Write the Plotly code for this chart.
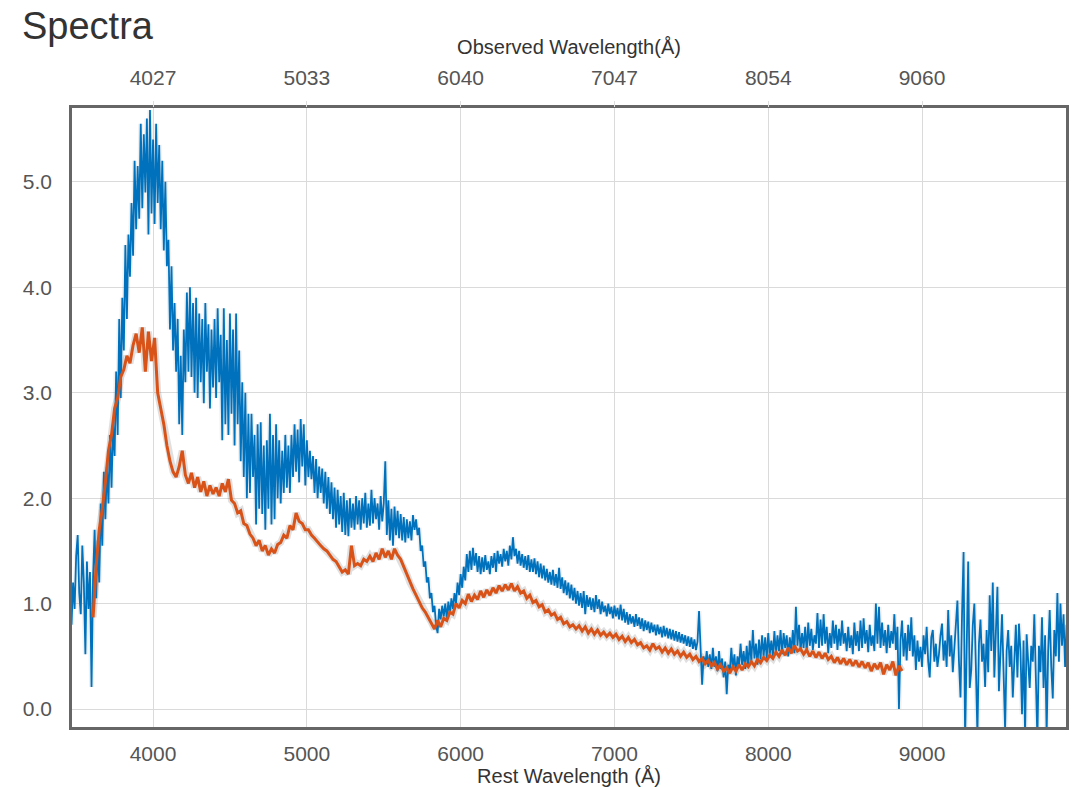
import plotly.graph_objects as go

# ---------------- data ----------------
blue_start, blue_step = 3470, 10
blue_flux = [
    0.80, 1.20, 0.95, 1.45, 1.65, 1.10, 0.90, 1.55, 1.20, 0.52,   # 3470
    1.40, 0.95, 1.30, 0.21, 1.25, 1.70, 1.05, 1.60, 1.20, 1.95,   # 3570
    1.55, 2.25, 1.80, 2.30, 1.95, 2.60, 2.10, 2.70, 2.40, 3.20,   # 3670
    2.60, 3.70, 2.95, 3.90, 3.40, 4.40, 3.70, 4.50, 4.10, 4.80,   # 3770
    4.30, 5.20, 4.55, 5.15, 4.65, 5.55, 4.75, 5.45, 4.90, 5.60,   # 3870
    4.50, 5.68, 4.70, 5.40, 4.60, 5.55, 4.80, 5.35, 4.55, 5.20,   # 3970
    4.35, 5.00, 4.20, 4.45, 3.60, 4.20, 3.40, 3.85, 3.20, 3.70,   # 4070
    2.70, 3.35, 2.60, 3.60, 3.10, 3.95, 3.20, 4.00, 3.15, 3.85,   # 4170
    3.00, 3.90, 2.95, 3.75, 3.10, 3.70, 2.90, 3.85, 3.20, 3.65,   # 4270
    2.85, 3.60, 3.05, 3.70, 2.95, 3.80, 3.10, 3.55, 2.55, 3.80,   # 4370
    2.70, 3.50, 2.60, 3.75, 2.80, 3.60, 2.50, 3.75, 2.70, 3.40,   # 4470
    2.35, 3.10, 2.20, 3.00, 2.00, 2.80, 2.05, 2.80, 2.20, 2.60,   # 4570
    1.75, 2.70, 1.90, 2.72, 1.85, 2.50, 1.70, 2.55, 1.90, 2.80,   # 4670
    1.75, 2.60, 1.80, 2.70, 2.00, 2.55, 1.95, 2.45, 2.05, 2.60,   # 4770
    2.10, 2.50, 2.05, 2.60, 2.20, 2.70, 2.25, 2.65, 2.15, 2.75,   # 4870
    2.30, 2.70, 2.12, 2.55, 2.20, 2.45, 2.18, 2.40, 2.05, 2.37,   # 4970
    2.00, 2.30, 2.05, 2.28, 1.95, 2.25, 1.90, 2.20, 1.85, 2.15,   # 5070
    1.80, 2.10, 1.72, 2.08, 1.75, 2.02, 1.68, 2.05, 1.65, 1.98,   # 5170
    1.64, 2.00, 1.72, 1.95, 1.70, 2.02, 1.75, 1.98, 1.70, 2.00,   # 5270
    1.76, 2.05, 1.72, 1.95, 1.74, 2.08, 1.76, 2.00, 1.80, 1.95,   # 5370
    1.70, 2.02, 1.78, 1.95, 2.35, 1.65, 1.98, 1.60, 1.90, 1.55,   # 5470
    1.92, 1.65, 1.88, 1.62, 1.85, 1.60, 1.82, 1.58, 1.80, 1.62,   # 5570
    1.78, 1.60, 1.84, 1.70, 1.80, 1.65, 1.72, 1.50, 1.55, 1.35,   # 5670
    1.40, 1.20, 1.25, 1.05, 1.10, 0.92, 0.98, 0.80, 0.72, 0.95,   # 5770
    0.85, 0.98, 0.88, 1.00, 0.86, 1.02, 0.90, 1.05, 0.95, 1.10,   # 5870
    1.00, 1.20, 1.08, 1.28, 1.15, 1.35, 1.22, 1.47, 1.30, 1.50,   # 5970
    1.32, 1.53, 1.36, 1.48, 1.30, 1.45, 1.28, 1.44, 1.30, 1.46,   # 6070
    1.32, 1.40, 1.28, 1.45, 1.34, 1.48, 1.30, 1.50, 1.38, 1.47,   # 6170
    1.35, 1.52, 1.40, 1.50, 1.36, 1.55, 1.42, 1.63, 1.45, 1.52,   # 6270
    1.38, 1.50, 1.36, 1.47, 1.34, 1.45, 1.32, 1.46, 1.30, 1.42,   # 6370
    1.30, 1.43, 1.28, 1.40, 1.25, 1.38, 1.24, 1.36, 1.22, 1.33,   # 6470
    1.20, 1.30, 1.18, 1.32, 1.17, 1.28, 1.15, 1.34, 1.14, 1.25,   # 6570
    1.10, 1.22, 1.08, 1.20, 1.05, 1.18, 1.03, 1.15, 1.00, 1.12,   # 6670
    0.98, 1.10, 0.96, 1.12, 0.90, 1.08, 0.97, 1.06, 0.94, 1.05,   # 6770
    0.92, 1.08, 0.95, 1.04, 0.90, 1.02, 0.92, 0.98, 0.88, 1.00,   # 6870
    0.90, 0.97, 0.86, 0.98, 0.88, 0.96, 0.85, 0.99, 0.84, 0.95,   # 6970
    0.82, 0.92, 0.80, 0.90, 0.81, 0.88, 0.78, 0.90, 0.79, 0.87,   # 7070
    0.76, 0.86, 0.74, 0.84, 0.75, 0.83, 0.72, 0.82, 0.73, 0.80,   # 7170
    0.70, 0.80, 0.71, 0.78, 0.68, 0.79, 0.69, 0.77, 0.67, 0.76,   # 7270
    0.66, 0.75, 0.65, 0.74, 0.64, 0.73, 0.63, 0.71, 0.62, 0.70,   # 7370
    0.60, 0.69, 0.59, 0.68, 0.57, 0.66, 0.56, 0.64, 0.93, 0.55,   # 7470
    0.23, 0.50, 0.42, 0.55, 0.40, 0.52, 0.38, 0.58, 0.40, 0.50,   # 7570
    0.36, 0.55, 0.38, 0.48, 0.30, 0.45, 0.14, 0.42, 0.35, 0.58,   # 7670
    0.38, 0.52, 0.32, 0.50, 0.40, 0.62, 0.42, 0.55, 0.38, 0.60,   # 7770
    0.40, 0.65, 0.45, 0.75, 0.48, 0.62, 0.42, 0.66, 0.47, 0.70,   # 7870
    0.50, 0.68, 0.48, 0.72, 0.52, 0.65, 0.50, 0.74, 0.52, 0.70,   # 7970
    0.55, 0.75, 0.52, 0.72, 0.58, 0.70, 0.50, 0.68, 0.55, 0.75,   # 8070
    0.53, 0.97, 0.60, 0.80, 0.55, 0.72, 0.58, 0.78, 0.54, 0.82,   # 8170
    0.60, 0.76, 0.56, 0.70, 0.62, 0.91, 0.58, 0.85, 0.60, 0.90,   # 8270
    0.62, 0.78, 0.53, 0.72, 0.58, 0.84, 0.62, 0.80, 0.56, 0.76,   # 8370
    0.60, 0.84, 0.62, 0.72, 0.55, 0.78, 0.58, 0.70, 0.52, 0.82,   # 8470
    0.60, 0.74, 0.55, 0.84, 0.58, 0.86, 0.62, 0.75, 0.54, 0.80,   # 8570
    0.60, 0.70, 0.55, 1.00, 0.62, 0.97, 0.58, 0.82, 0.60, 0.75,   # 8670
    0.53, 0.80, 0.58, 0.74, 0.62, 0.90, 0.56, 0.78, 0.00, 0.65,   # 8770
    0.84, 0.50, 0.72, 0.46, 0.80, 0.55, 0.87, 0.50, 0.70, 0.37,   # 8870
    0.65, 0.45, 0.59, 0.40, 0.70, 0.52, 0.78, 0.45, 0.30, 0.68,   # 8970
    0.75, 0.45, 0.62, 0.40, 0.52, 0.70, 0.81, 0.46, 0.65, 0.40,   # 9070
    0.94, 0.50, 0.70, 0.35, 0.59, 0.72, 1.03, 0.45, 0.11, 0.90,   # 9170
    1.49, -0.30, 0.60, 1.40, 0.20, 0.37, 0.80, 1.00, 0.40, -0.25, # 9270
    0.62, 0.85, 0.45, 0.62, 0.21, 0.75, 0.35, 1.08, 0.55, 1.20,   # 9370
    0.30, 0.70, 1.16, 0.17, 0.60, 0.90, 0.35, -0.20, 0.55, 0.75,  # 9470
    0.40, 0.60, 0.11, 0.45, 0.80, 0.30, 0.81, 0.55, -0.05, 0.65,  # 9570
    -0.25, 0.71, 0.40, 0.20, 0.60, 0.45, 0.90, 0.25, -0.30, 0.60, # 9670
    0.35, 0.87, 0.20, 0.70, -0.25, 0.55, 0.94, 0.40, 0.10, 0.75,  # 9770
    0.50, 1.10, 0.45, 1.00, 0.60, 0.90, 0.40, 0.80,               # 9870
]

orange_start, orange_step = 3610, 20
orange_flux = [
    0.87, 1.35, 1.70, 1.90, 2.15, 2.45, 2.60, 2.85, 2.95, 3.15,
    3.22, 3.35, 3.28, 3.45, 3.56, 3.38, 3.62, 3.20, 3.58, 3.30,
    3.52, 3.00, 2.85, 2.70, 2.50, 2.35, 2.25, 2.20, 2.30, 2.45,
    2.22, 2.14, 2.24, 2.10, 2.20, 2.06, 2.16, 2.02, 2.12, 2.04,
    2.10, 2.02, 2.14, 2.06, 2.18, 1.98, 1.95, 1.86, 1.88, 1.76,
    1.74, 1.66, 1.62, 1.55, 1.60, 1.50, 1.55, 1.46, 1.52, 1.48,
    1.56, 1.58, 1.65, 1.62, 1.74, 1.70, 1.86, 1.78, 1.76, 1.70,
    1.70, 1.65, 1.62, 1.58, 1.55, 1.52, 1.50, 1.46, 1.42, 1.40,
    1.35, 1.30, 1.32, 1.28, 1.55, 1.36, 1.38, 1.36, 1.42, 1.40,
    1.45, 1.40, 1.48, 1.42, 1.52, 1.44, 1.50, 1.42, 1.52, 1.46,
    1.42, 1.35, 1.28, 1.20, 1.14, 1.08, 1.02, 0.96, 0.92, 0.87,
    0.82, 0.76, 0.84, 0.78, 0.86, 0.84, 0.92, 0.90, 1.00, 0.96,
    1.03, 1.00, 1.09, 1.02, 1.08, 1.04, 1.12, 1.06, 1.13, 1.08,
    1.15, 1.10, 1.17, 1.12, 1.18, 1.13, 1.19, 1.12, 1.16, 1.10,
    1.12, 1.05, 1.08, 1.01, 1.03, 0.97, 0.99, 0.92, 0.94, 0.89,
    0.91, 0.85, 0.87, 0.81, 0.83, 0.78, 0.80, 0.76, 0.79, 0.74,
    0.78, 0.72, 0.76, 0.71, 0.75, 0.70, 0.73, 0.69, 0.72, 0.68,
    0.71, 0.66, 0.69, 0.64, 0.68, 0.63, 0.66, 0.61, 0.63, 0.58,
    0.60, 0.56, 0.62, 0.57, 0.59, 0.54, 0.58, 0.53, 0.57, 0.52,
    0.55, 0.50, 0.54, 0.49, 0.52, 0.47, 0.50, 0.45, 0.48, 0.43,
    0.46, 0.41, 0.44, 0.38, 0.42, 0.36, 0.39, 0.34, 0.40, 0.36,
    0.42, 0.37, 0.43, 0.40, 0.45, 0.41, 0.47, 0.44, 0.49, 0.46,
    0.51, 0.48, 0.54, 0.50, 0.56, 0.51, 0.58, 0.53, 0.60, 0.55,
    0.57, 0.52, 0.56, 0.50, 0.55, 0.49, 0.54, 0.48, 0.53, 0.47,
    0.50, 0.44, 0.49, 0.43, 0.48, 0.42, 0.47, 0.41, 0.46, 0.40,
    0.45, 0.39, 0.44, 0.36, 0.43, 0.38, 0.44, 0.33, 0.42, 0.37,
    0.45, 0.32, 0.41, 0.36,
]

rest_ticks = [4000, 5000, 6000, 7000, 8000, 9000]
observed_tick_labels = ["4027", "5033", "6040", "7047", "8054", "9060"]
y_ticks = [0, 1, 2, 3, 4, 5]

blue_wave = list(range(blue_start, blue_start + blue_step * len(blue_flux), blue_step))
orange_wave = list(range(orange_start, orange_start + orange_step * len(orange_flux), orange_step))

# ---------------- figure ----------------
BLUE = "#0072BD"
ORANGE = "#D95319"
FONT = "Liberation Sans, Arial, sans-serif"
X_RANGE = [3473, 9936]
Y_RANGE = [-0.17, 5.70]
TICK_FONT = dict(size=21, color="#555")
AXT_FONT = dict(size=20, color="#333")

fig = go.Figure()
# soft shadows
fig.add_trace(go.Scatter(x=blue_wave, y=blue_flux, mode="lines",
                         line=dict(color="rgba(0,0,0,0.06)", width=5),
                         hoverinfo="skip", showlegend=False))
fig.add_trace(go.Scatter(x=orange_wave, y=orange_flux, mode="lines",
                         line=dict(color="rgba(0,0,0,0.12)", width=7),
                         hoverinfo="skip", showlegend=False))
fig.add_trace(go.Scatter(x=blue_wave, y=blue_flux, mode="lines",
                         line=dict(color=BLUE, width=1.8), name="spectrum 1",
                         showlegend=False))
fig.add_trace(go.Scatter(x=orange_wave, y=orange_flux, mode="lines",
                         line=dict(color=ORANGE, width=3), name="spectrum 2",
                         showlegend=False))
# invisible trace to anchor the observed-wavelength axis
fig.add_trace(go.Scatter(x=blue_wave, y=blue_flux, mode="lines", xaxis="x2",
                         line=dict(width=0), opacity=0, hoverinfo="skip",
                         showlegend=False))

fig.update_layout(
    width=1071, height=787,
    margin=dict(l=72, r=5, t=108, b=60),
    paper_bgcolor="white", plot_bgcolor="white",
    font=dict(family=FONT, color="#555"),
    title=dict(text="Spectra", x=22 / 1071, xref="container", xanchor="left",
               y=1 - 26 / 787, yref="container", yanchor="middle",
               font=dict(size=38, color="#333", family=FONT)),
    xaxis=dict(range=X_RANGE, tickvals=rest_ticks, showgrid=True, automargin=False,
               gridcolor="#dadada", gridwidth=1, zeroline=False,
               showline=True, linecolor="#666", linewidth=2.5, mirror=True,
               ticks="", tickfont=TICK_FONT, ticklabelstandoff=6,
               title=dict(text="Rest Wavelength (Å)", standoff=0, font=AXT_FONT)),
    xaxis2=dict(range=X_RANGE, overlaying="x", side="top", automargin=False,
                tickvals=rest_ticks, ticktext=observed_tick_labels,
                showgrid=False, zeroline=False, showline=False,
                ticks="outside", ticklen=6, tickcolor="#dddddd",
                tickfont=TICK_FONT, ticklabelstandoff=8,
                title=dict(text="Observed Wavelength(Å)", standoff=5, font=AXT_FONT)),
    yaxis=dict(range=Y_RANGE, tickvals=y_ticks, tickformat=".1f", automargin=False,
               showgrid=True, gridcolor="#dadada", gridwidth=1, zeroline=False,
               showline=True, linecolor="#666", linewidth=2.5, mirror=True,
               ticks="", tickfont=TICK_FONT, ticklabelstandoff=13),
)

fig.write_html("out.html", config={"displayModeBar": False},
               post_script="document.body.style.margin='0px';")
